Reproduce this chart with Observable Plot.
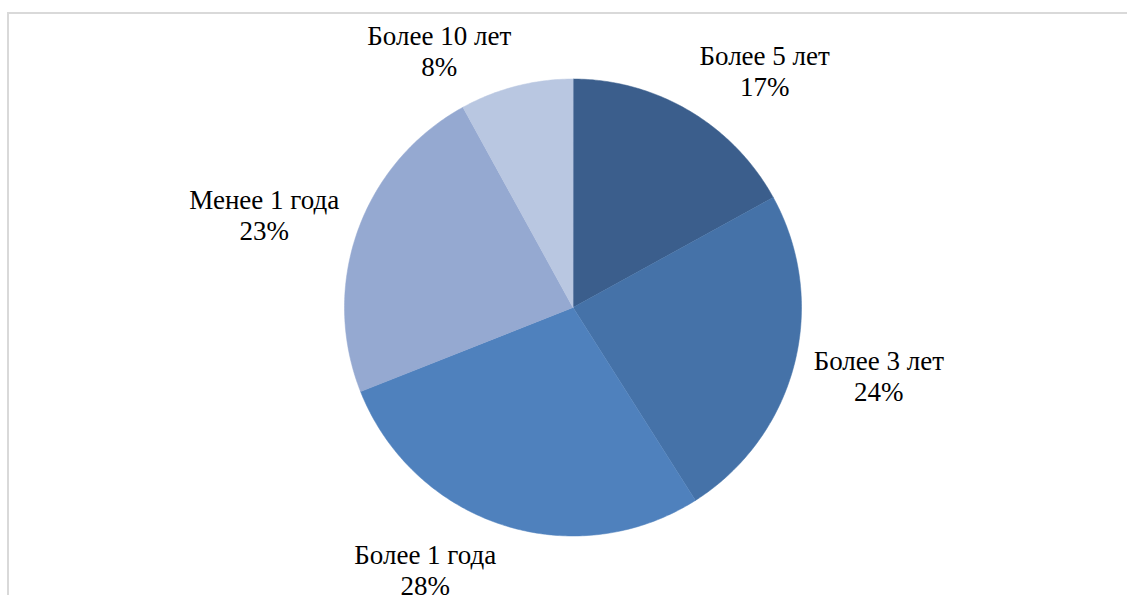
<!DOCTYPE html>
<html>
<head>
<meta charset="utf-8">
<script src="https://cdn.jsdelivr.net/npm/d3@7"></script>
<script src="https://cdn.jsdelivr.net/npm/@observablehq/plot@0.6"></script>
<style>
  html, body { margin: 0; padding: 0; background: #fff; }
  #wrap { position: relative; width: 1127px; height: 595px; overflow: hidden; }
  #frame { position: absolute; left: 7px; top: 12px; right: -4px; bottom: -4px;
           border-top: 2px solid #d9d9d9; border-left: 2px solid #d9d9d9; pointer-events: none; }
  #chart { position: absolute; left: 0; top: 0; }
</style>
</head>
<body>
<div id="wrap"><div id="chart"></div><div id="frame"></div></div>
<script>
// Data (clockwise from 12 o'clock)
const categories = ["Более 5 лет", "Более 3 лет", "Более 1 года", "Менее 1 года", "Более 10 лет"];
const shares = [17, 24, 28, 23, 8];
const palette = ["#3b5e8c", "#4572a8", "#4f81bd", "#95a9d1", "#b9c7e1"];

// Layout
const W = 1127, H = 595;
const cx = 572.5, cy = 307, R = 228.5;
const fontSize = 27;
const lineHeight = 1.15;
const fontFamily = "Liberation Serif";
const areaTop = 12;

const arcs = d3.pie().sort(null).value(d => d)(shares);

// slice outlines in unit coordinates (y up)
const slicePts = [];
arcs.forEach((a, i) => {
  const cat = categories[i];
  slicePts.push({cat, x: 0, y: 0});
  const n = Math.max(8, Math.ceil((a.endAngle - a.startAngle) * 80));
  for (let k = 0; k <= n; k++) {
    const t = a.startAngle + (a.endAngle - a.startAngle) * k / n;
    slicePts.push({cat, x: Math.sin(t), y: Math.cos(t)});
  }
});

// label placement (outside end, kept inside the chart area)
const ctx = document.createElement("canvas").getContext("2d");
ctx.font = `${fontSize}px "${fontFamily}", serif`;
const gap = 20, halfH = fontSize;
const blockHalf = fontSize * lineHeight;
const labels = arcs.map((a, i) => {
  const m = (a.startAngle + a.endAngle) / 2;
  const ux = Math.sin(m), uy = -Math.cos(m); // pixel direction, y down
  const l1 = categories[i], l2 = shares[i] + "%";
  const w = Math.max(ctx.measureText(l1).width, ctx.measureText(l2).width);
  const px = ux * (R + gap) + Math.sign(ux) * w / 2;
  let py = uy * (R + gap) + uy * halfH;
  const minPy = areaTop + blockHalf + 7 - cy;
  if (py < minPy) py = minPy;
  return {text: l1 + "\n" + l2, x: px / R, y: -py / R};
});

const chart = Plot.plot({
  width: W,
  height: H,
  margin: 0,
  style: {background: "transparent", overflow: "visible"},
  x: {domain: [-1, 1], range: [cx - R, cx + R], axis: null},
  y: {domain: [-1, 1], range: [cy + R, cy - R], axis: null},
  color: {domain: categories, range: palette},
  marks: [
    Plot.line(slicePts, {x: "x", y: "y", z: "cat", fill: "cat", stroke: "cat", strokeWidth: 0.5, curve: "linear-closed"}),
    Plot.text(labels, {x: "x", y: "y", text: "text", fontSize, fontFamily, fill: "#000",
                       lineAnchor: "middle", textAnchor: "middle", lineHeight})
  ]
});
document.getElementById("chart").append(chart);
</script>
</body>
</html>
